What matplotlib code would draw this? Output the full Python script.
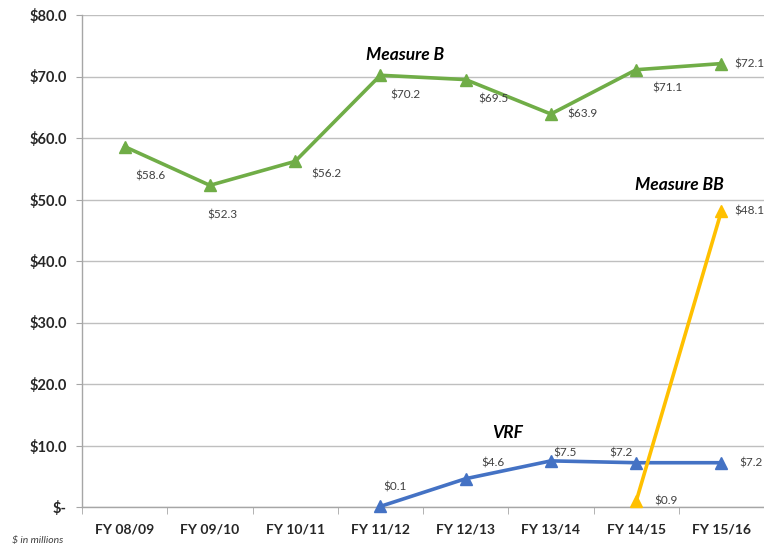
import numpy as np
import matplotlib.pyplot as plt
from matplotlib.ticker import FixedLocator

years = ['FY 08/09', 'FY 09/10', 'FY 10/11', 'FY 11/12', 'FY 12/13',
         'FY 13/14', 'FY 14/15', 'FY 15/16']
measure_b = [58.6, 52.3, 56.2, 70.2, 69.5, 63.9, 71.1, 72.1]
vrf_idx = [3, 4, 5, 6, 7]
vrf = [0.1, 4.6, 7.5, 7.2, 7.2]
bb_idx = [6, 7]
measure_bb = [0.9, 48.1]
y_ticks = [0, 10, 20, 30, 40, 50, 60, 70, 80]
y_labels = ['$-', '$10.0', '$20.0', '$30.0', '$40.0', '$50.0', '$60.0', '$70.0', '$80.0']

plt.rcParams['font.family'] = ['Lato', 'DejaVu Sans']

green = '#70AD47'
blue = '#4472C4'
gold = '#FFC000'


def main():
    fig = plt.figure(figsize=(7.64, 5.46), dpi=100)
    ax = fig.add_axes([82 / 764, 1 - 507 / 546, 1 - 82 / 764, (507 - 15) / 546])

    x = np.arange(len(years))
    line = dict(lw=2.6, marker='^', ms=9, clip_on=False)
    ax.plot(x, measure_b, color=green, zorder=3, **line)
    ax.plot(vrf_idx, vrf, color=blue, zorder=4, **line)
    ax.plot(bb_idx, measure_bb, color=gold, zorder=5, **line)

    # data labels (offsets in points, from left edge)
    lab = dict(fontsize=8.5, color='#404040', ha='left', va='center')
    b_off = [(8, -21), (-2, -21), (11.5, -9), (7, -14), (9, -14), (12, 0), (12, -13), (9, 0)]
    for xi, v, off in zip(x, measure_b, b_off):
        ax.annotate(f'${v:.1f}', (xi, v), xytext=off, textcoords='offset points', **lab)
    v_off = [(2, 14), (11.5, 11.5), (1.5, 6), (-19, 7), (13, 0)]
    for xi, v, off in zip(vrf_idx, vrf, v_off):
        ax.annotate(f'${v:.1f}', (xi, v), xytext=off, textcoords='offset points', **lab)
    bb_off = [(13, 0), (9, 0)]
    for xi, v, off in zip(bb_idx, measure_bb, bb_off):
        ax.annotate(f'${v:.1f}', (xi, v), xytext=off, textcoords='offset points', **lab)

    # series names
    name = dict(fontsize=12.5, style='italic', fontweight='bold', color='black', ha='center', va='center')
    ax.text(3.29, 73.5, 'Measure B', **name)
    ax.text(6.51, 52.4, 'Measure BB', **name)
    ax.text(4.49, 12.0, 'VRF', **name)

    ax.set_xlim(-0.5, len(years) - 0.5)
    ax.set_ylim(0, 80)
    ax.set_xticks(x)
    ax.set_xticklabels(years, fontsize=10, fontweight='bold', color='#262626')
    ax.xaxis.set_minor_locator(FixedLocator(np.arange(-0.5, len(years), 1.0)))
    ax.tick_params(axis='x', which='major', length=0, pad=12)
    ax.tick_params(axis='x', which='minor', length=5, color='#A6A6A6', direction='out')
    ax.set_yticks(y_ticks)
    ax.set_yticklabels(y_labels, fontsize=10.5, fontweight='bold', color='#262626')
    ax.tick_params(axis='y', length=4, color='#A6A6A6', pad=7)

    ax.grid(axis='y', color='#BFBFBF', lw=1)
    ax.set_axisbelow(True)
    for s in ['top', 'right']:
        ax.spines[s].set_visible(False)
    for s in ['left', 'bottom']:
        ax.spines[s].set_color('#A6A6A6')
        ax.spines[s].set_linewidth(1)

    fig.text(12 / 764, 1 - 540 / 546, '$ in millions', fontsize=7.5, style='italic',
             color='#404040', ha='left', va='center')

    fig.savefig('out.png', dpi=100)


if __name__ == '__main__':
    main()
